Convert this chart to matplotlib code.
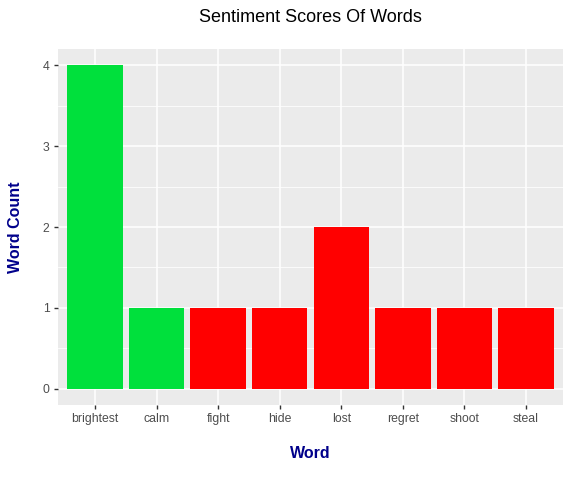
import matplotlib
matplotlib.use("Agg")
import matplotlib.pyplot as plt
import numpy as np

words = ["brightest", "calm", "fight", "hide", "lost", "regret", "shoot", "steal"]
counts = [4, 1, 1, 1, 2, 1, 1, 1]
sentiment = ["positive", "positive", "negative", "negative", "negative", "negative", "negative", "negative"]
colors_map = {"positive": "#00E03C", "negative": "#FF0000"}

plt.rcParams["font.family"] = ["Liberation Sans", "DejaVu Sans"]

W, H = 570, 484
fig = plt.figure(figsize=(W / 100, H / 100), dpi=100)
left, right, top, bottom = 58, 563, 49, 405
ax = fig.add_axes([left / W, (H - bottom) / H, (right - left) / W, (bottom - top) / H])
ax.set_facecolor("#EBEBEB")

x = np.arange(1, len(words) + 1)
ax.bar(x, counts, width=0.9, color=[colors_map[s] for s in sentiment], zorder=3)

ax.set_xlim(0.4, len(words) + 0.6)
ax.set_ylim(-0.2, 4.2)
ax.set_xticks(x)
ax.set_xticklabels(words)
ax.set_yticks([0, 1, 2, 3, 4])
ax.set_yticks([0.5, 1.5, 2.5, 3.5], minor=True)

ax.grid(True, which="major", color="white", linewidth=1.1, zorder=0)
ax.grid(True, which="minor", axis="y", color="white", linewidth=0.55, zorder=0)
ax.set_axisbelow(True)
for s in ax.spines.values():
    s.set_visible(False)
ax.tick_params(axis="both", which="major", length=3, width=1, color="#333333",
               labelcolor="#4D4D4D", labelsize=8.8, pad=3)
ax.tick_params(axis="both", which="minor", length=0)

fig.text((left + right) / 2 / W, 1 - 454 / H, "Word", ha="center", va="center",
         fontsize=11.5, fontweight="bold", color="#00008B")
fig.text(16 / W, 1 - (top + bottom) / 2 / H, "Word Count", ha="center", va="center",
         rotation=90, fontsize=11.5, fontweight="bold", color="#00008B")
fig.text((left + right) / 2 / W, 1 - 17 / H, "Sentiment Scores Of Words", ha="center",
         va="center", fontsize=13)

fig.savefig("out.png", dpi=100)
